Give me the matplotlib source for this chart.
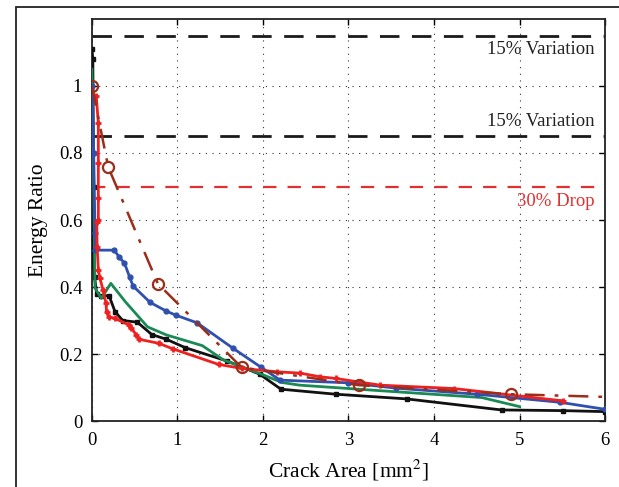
import numpy as np
import matplotlib
matplotlib.use("Agg")
import matplotlib.pyplot as plt
from matplotlib.patches import Rectangle

plt.rcParams['font.family'] = ['Liberation Serif', 'DejaVu Serif']
plt.rcParams['mathtext.fontset'] = 'stix'

# model curve (brown dash-dot, circles)
model_x = [0.0, 0.19, 0.77, 1.75, 3.12, 4.9, 6.0]
model_y = [1.0, 0.758, 0.41, 0.16, 0.107, 0.08, 0.072]

# specimen curves
blue_x = [0.0, 0.02, 0.035, 0.04, 0.26, 0.32, 0.38, 0.44, 0.48, 0.68, 0.87, 0.98,
          1.23, 1.65, 1.98, 2.2, 3.0, 3.56, 4.5, 5.47, 6.0]
blue_y = [1.0, 0.8, 0.56, 0.51, 0.51, 0.489, 0.471, 0.43, 0.403, 0.354, 0.328, 0.316,
          0.293, 0.217, 0.16, 0.122, 0.114, 0.098, 0.08, 0.056, 0.035]

black_x = [0.0, 0.01, 0.02, 0.0, 0.03, 0.055, 0.1, 0.2, 0.27, 0.36, 0.53, 0.7, 0.87,
           1.09, 1.58, 1.96, 2.21, 2.85, 3.68, 4.79, 5.51, 6.0]
black_y = [1.11, 1.08, 0.7, 0.5, 0.43, 0.38, 0.374, 0.374, 0.326, 0.30, 0.295, 0.258, 0.244,
           0.219, 0.179, 0.14, 0.095, 0.08, 0.066, 0.033, 0.031, 0.028]

green_x = [0.0, 0.01, 0.035, 0.11, 0.22, 0.39, 0.65, 0.87, 1.29, 1.54, 1.98, 2.22,
           2.43, 3.4, 4.56, 5.0]
green_y = [1.05, 0.9, 0.397, 0.366, 0.411, 0.356, 0.281, 0.257, 0.225, 0.182, 0.14, 0.115,
           0.107, 0.09, 0.07, 0.043]

red_x = [0.05, 0.074, 0.074, 0.074, 0.074, 0.055, 0.06, 0.075, 0.094, 0.13, 0.164, 0.17,
         0.2, 0.27, 0.43, 0.46, 0.52, 0.55, 0.78, 0.95, 1.48, 1.75, 2.16, 2.43, 2.67,
         2.85, 3.37, 4.23, 5.51]
red_y = [0.97, 0.889, 0.77, 0.666, 0.6, 0.595, 0.52, 0.45, 0.426, 0.39, 0.351, 0.326,
         0.311, 0.306, 0.287, 0.277, 0.257, 0.244, 0.232, 0.215, 0.169, 0.157, 0.147,
         0.143, 0.132, 0.127, 0.107, 0.097, 0.06]

var_levels = [1.15, 0.85]
drop_level = 0.7

fig = plt.figure(figsize=(6.19, 4.87), dpi=100)
ax = fig.add_axes([0.1486, 0.1355, 0.8288, 0.8255])

# partial frame around the figure
fig.patches.append(Rectangle((16 / 619, -0.1), 1.2, 1 - 7 / 487 + 0.1,
                             transform=fig.transFigure, fill=False,
                             edgecolor='#222222', lw=1.3))

for lv in var_levels:
    ax.axhline(lv, color='#1a1a1a', lw=2, dashes=(7, 4.5), zorder=2)
ax.axhline(drop_level, color='#e03030', lw=1.6, dashes=(6, 5), zorder=2)

ax.plot(black_x, black_y, color='#111111', lw=2, marker='s', ms=3.5, zorder=4)
ax.plot(green_x, green_y, color='#1a8a55', lw=2, zorder=4)
ax.plot(blue_x, blue_y, color='#3050b0', lw=2, marker='o', ms=3.5, zorder=4)
ax.plot(red_x, red_y, color='#ee2020', lw=2, marker='+', ms=5, mew=2, zorder=5)
ax.plot(model_x, model_y, color='#9a2e1a', lw=1.8, dashes=(8, 4, 1.5, 4),
        marker='o', ms=8, mfc='none', mew=1.6, markevery=list(range(len(model_x) - 1)),
        zorder=6)

ax.text(5.88, 1.11, '15% Variation', ha='right', va='center', fontsize=13.5, color='#222222')
ax.text(5.88, 0.895, '15% Variation', ha='right', va='center', fontsize=13.5, color='#222222')
ax.text(5.88, 0.655, '30% Drop', ha='right', va='center', fontsize=13.5, color='#e03030')

ax.set_xlim(0, 6)
ax.set_ylim(0, 1.2)
ax.set_xticks(range(7))
ax.set_yticks([0, 0.2, 0.4, 0.6, 0.8, 1.0])
ax.set_yticklabels(['0', '0.2', '0.4', '0.6', '0.8', '1'])
ax.grid(True, linestyle=(0, (1, 5)), color='#333333', lw=0.8)
ax.tick_params(direction='in', top=True, right=True, labelsize=13.5, length=4, width=1)
ax.tick_params(axis='x', pad=8)
ax.tick_params(axis='y', pad=7)
for s in ax.spines.values():
    s.set_linewidth(1.3)
    s.set_color('#222222')

ax.set_xlabel('Crack Area [mm$^2$]', fontsize=15.5, labelpad=6)
ax.set_ylabel('Energy Ratio', fontsize=15.5, labelpad=8)

fig.savefig('out.png', dpi=100)
